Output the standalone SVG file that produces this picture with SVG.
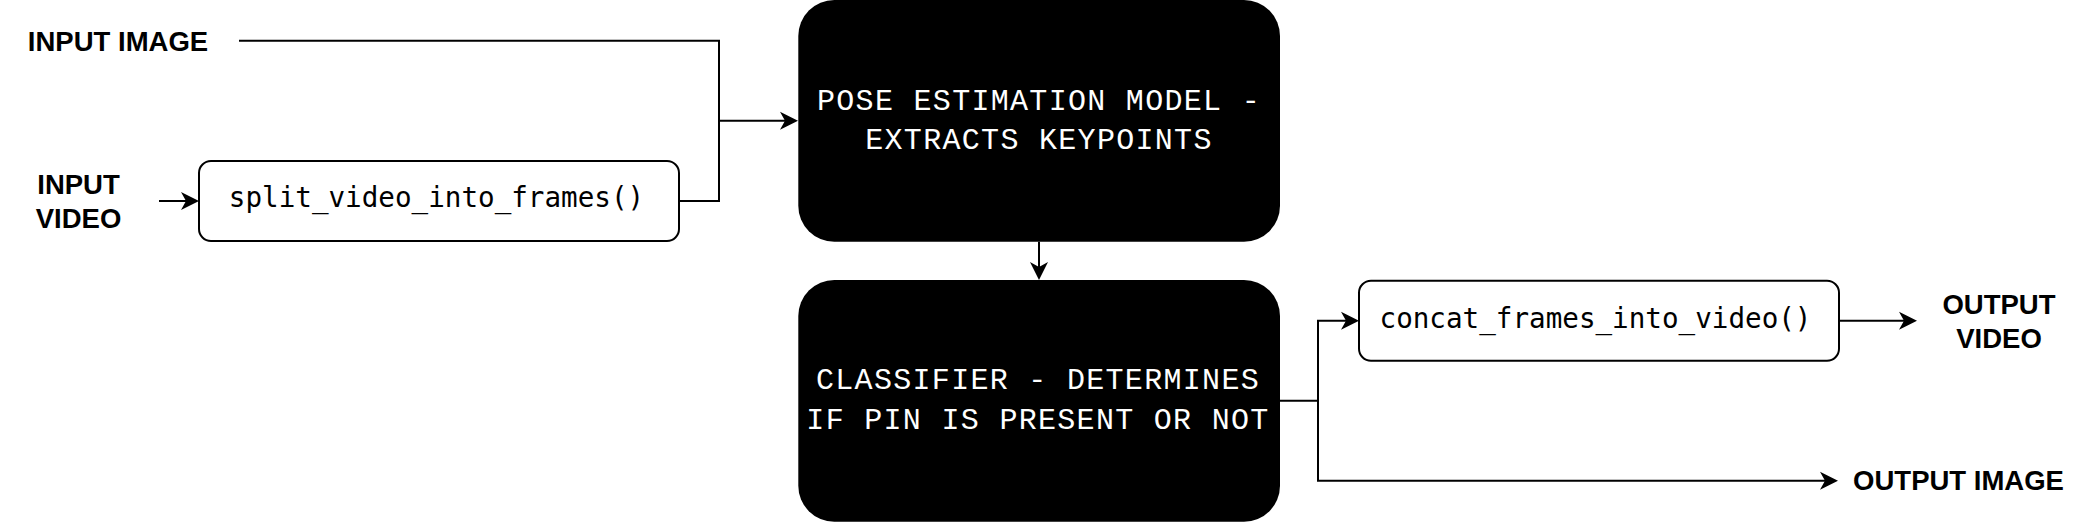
<svg xmlns="http://www.w3.org/2000/svg" width="2080" height="522" viewBox="0 0 2080 522">
  <style>
    .lbl { font-family: "Liberation Sans", Arial, sans-serif; font-weight: bold; font-size: 27.5px; fill: #000; text-anchor: middle; }
    .code { font-family: "DejaVu Sans Mono", monospace; font-size: 27.6px; fill: #000; text-anchor: middle; }
    .big { font-family: "Liberation Mono", monospace; font-size: 30px; letter-spacing: 1.3px; fill: #fff; text-anchor: middle; }
    .wbox { fill: #fff; stroke: #000; stroke-width: 2; }
    .bbox { fill: #000; stroke: none; }
    .edge { fill: none; stroke: #000; stroke-width: 2; marker-end: url(#arr); }
    .edge-plain { fill: none; stroke: #000; stroke-width: 2; }
  </style>
  <defs>
    <marker id="arr" markerUnits="userSpaceOnUse" viewBox="-6 -10 20 20" refX="0" refY="0" markerWidth="20" markerHeight="20" orient="auto">
      <path d="M0,0 L-5,-9 L13,0 L-5,9 Z" fill="#000"/>
    </marker>
  </defs>
  <rect width="2080" height="522" fill="#fff"/>

  <g id="connectors">
    <path class="edge" d="M239,40.7 H719 V120.7 H785"/>
    <path class="edge-plain" d="M679,201 H719 V120.7"/>
    <path class="edge" d="M159,201 H186"/>
    <path class="edge" d="M1039,241.7 V267"/>
    <path class="edge" d="M1280,400.7 H1318 V320.7 H1346"/>
    <path class="edge" d="M1318,400.7 V480.7 H1825"/>
    <path class="edge" d="M1839,320.7 H1904"/>
  </g>

  <g id="input-image">
    <text class="lbl" x="118" y="50.5">INPUT IMAGE</text>
  </g>
  <g id="input-video">
    <text class="lbl" x="78.5" y="194.3">INPUT</text>
    <text class="lbl" x="78.5" y="228.3">VIDEO</text>
  </g>
  <g id="split-video">
    <rect class="wbox" x="199" y="161" width="480" height="80" rx="12" ry="12"/>
    <text class="code" x="436.5" y="207.3">split_video_into_frames()</text>
  </g>
  <g id="pose-model">
    <rect class="bbox" x="798.3" y="0" width="481.7" height="241.7" rx="36" ry="36"/>
    <text class="big" x="1039" y="110">POSE ESTIMATION MODEL -</text>
    <text class="big" x="1039" y="149.3">EXTRACTS KEYPOINTS</text>
  </g>
  <g id="classifier">
    <rect class="bbox" x="798.3" y="280" width="481.7" height="241.7" rx="36" ry="36"/>
    <text class="big" x="1038" y="389.3">CLASSIFIER - DETERMINES</text>
    <text class="big" x="1038" y="429.3">IF PIN IS PRESENT OR NOT</text>
  </g>
  <g id="concat-video">
    <rect class="wbox" x="1359" y="280.7" width="480" height="80" rx="12" ry="12"/>
    <text class="code" x="1595.5" y="328">concat_frames_into_video()</text>
  </g>
  <g id="output-video">
    <text class="lbl" x="1999" y="314">OUTPUT</text>
    <text class="lbl" x="1999" y="348">VIDEO</text>
  </g>
  <g id="output-image">
    <text class="lbl" x="1958.5" y="490">OUTPUT IMAGE</text>
  </g>
</svg>
